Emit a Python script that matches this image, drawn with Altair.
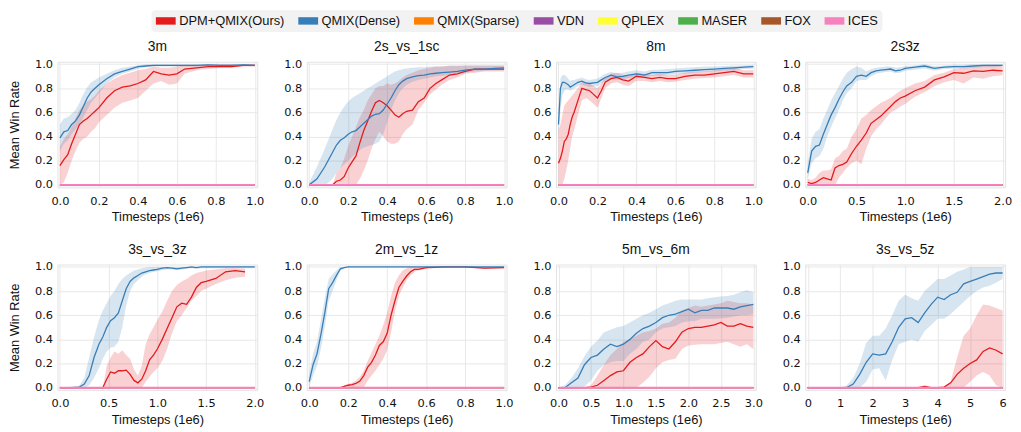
import altair as alt
import pandas as pd

METHODS = ["DPM+QMIX(Ours)", "QMIX(Dense)", "QMIX(Sparse)", "VDN", "QPLEX", "MASER", "FOX", "ICES"]
COLORS = ["#e41a1c", "#377eb8", "#ff7f00", "#984ea3", "#ffff33", "#4daf4a", "#a65628", "#f781bf"]

PANELS = ["3m", "2s_vs_1sc", "8m", "2s3z", "3s_vs_3z", "2m_vs_1z", "5m_vs_6m", "3s_vs_5z"]
X_MAX = [1.0, 1.0, 1.0, 2.0, 2.0, 1.0, 3.0, 6.0]
X_TICKS = [
    [0, 0.2, 0.4, 0.6, 0.8, 1.0],
    [0, 0.2, 0.4, 0.6, 0.8, 1.0],
    [0, 0.2, 0.4, 0.6, 0.8, 1.0],
    [0, 0.5, 1.0, 1.5, 2.0],
    [0, 0.5, 1.0, 1.5, 2.0],
    [0, 0.2, 0.4, 0.6, 0.8, 1.0],
    [0, 0.5, 1.0, 1.5, 2.0, 2.5, 3.0],
    [0, 1, 2, 3, 4, 5, 6],
]
X_FMT = [".1f", ".1f", ".1f", ".1f", ".1f", ".1f", ".1f", "d"]
Y_TICKS = [0, 0.2, 0.4, 0.6, 0.8, 1.0]

# ---------------- 3m ----------------
X_3M = [0, .02, .04, .06, .08, .10, .12, .14, .16, .18, .20, .24, .28, .32, .36, .40, .44, .48, .52, .56, .60, .64, .70, .76, .82, .88, .94, 1.0]
RED_3M = [.16, .21, .25, .34, .42, .50, .53, .55, .58, .61, .64, .72, .78, .81, .82, .84, .87, .94, .92, .91, .92, .96, .97, .98, .98, .98, .99, .99]
RED_LO_3M = [0, .02, .10, .20, .28, .35, .38, .40, .44, .47, .52, .58, .64, .68, .70, .72, .78, .84, .86, .83, .84, .92, .95, .96, .97, .97, .98, .98]
RED_HI_3M = [.32, .38, .42, .48, .55, .62, .66, .69, .71, .74, .78, .84, .88, .91, .93, .95, .96, .98, .97, .97, .98, .99, .99, 1, 1, 1, 1, 1]
BLUE_3M = [.39, .44, .45, .50, .53, .58, .65, .72, .77, .80, .83, .88, .92, .94, .96, .98, .985, .99, .99, .99, .99, .99, .99, .995, .99, .99, .995, .99]
BLUE_LO_3M = [.28, .34, .37, .42, .46, .50, .56, .62, .68, .72, .76, .84, .89, .92, .94, .96, .975, .98, .98, .98, .98, .98, .98, .985, .98, .98, .985, .98]
BLUE_HI_3M = [.50, .55, .56, .59, .62, .68, .75, .81, .85, .87, .89, .92, .95, .97, .98, .99, 1, 1, 1, 1, 1, 1, 1, 1, 1, 1, 1, 1]

# ---------------- 2s_vs_1sc ----------------
X_2S1SC = [0, .04, .08, .10, .12, .14, .16, .18, .20, .22, .24, .26, .28, .30, .32, .34, .36, .38, .40, .42, .44, .46, .48, .50, .53, .56, .59, .62, .65, .68, .72, .76, .80, .85, .90, .95, 1.0]
RED_2S1SC = [0, 0, 0, 0, 0, .03, .04, .07, .14, .19, .24, .35, .45, .53, .61, .68, .70, .68, .655, .62, .58, .56, .59, .61, .62, .69, .72, .80, .84, .87, .91, .92, .94, .96, .96, .96, .96]
RED_LO_2S1SC = [0, 0, 0, 0, 0, 0, 0, 0, 0, 0, 0, .05, .12, .20, .30, .38, .44, .40, .36, .34, .34, .36, .42, .46, .50, .62, .68, .75, .79, .83, .87, .89, .92, .93, .94, .94, .94]
RED_HI_2S1SC = [0, 0, 0, 0, 0, .10, .14, .22, .32, .40, .48, .56, .62, .70, .75, .80, .82, .82, .84, .83, .84, .86, .89, .91, .93, .95, .96, .97, .98, .98, .99, .99, .99, .99, .99, .99, .99]
BLUE_2S1SC = [0, .05, .15, .21, .27, .33, .37, .39, .42, .44, .45, .48, .51, .54, .57, .585, .59, .62, .67, .72, .78, .83, .86, .88, .895, .905, .91, .92, .925, .93, .935, .94, .95, .96, .96, .965, .97]
BLUE_LO_2S1SC = [0, 0, 0, .02, .05, .10, .14, .17, .20, .23, .26, .29, .31, .32, .33, .34, .36, .42, .52, .62, .70, .76, .80, .83, .855, .87, .88, .89, .90, .905, .91, .92, .93, .94, .945, .95, .95]
BLUE_HI_2S1SC = [.02, .15, .30, .38, .46, .54, .60, .65, .69, .72, .74, .76, .78, .80, .82, .84, .86, .88, .90, .92, .94, .95, .96, .965, .97, .975, .975, .98, .98, .98, .985, .985, .99, .99, .99, .99, .99]

# ---------------- 8m ----------------
X_8M = [0, .01, .02, .03, .04, .05, .06, .07, .08, .10, .12, .14, .16, .18, .20, .22, .24, .27, .30, .33, .36, .40, .44, .48, .52, .56, .60, .65, .70, .75, .80, .85, .90, .95, 1.0]
RED_8M = [.18, .22, .28, .36, .38, .42, .50, .56, .60, .70, .80, .79, .78, .75, .72, .78, .85, .88, .89, .87, .86, .90, .89, .88, .89, .88, .88, .90, .91, .91, .92, .93, .94, .92, .92]
RED_LO_8M = [0, 0, 0, .05, .12, .20, .30, .40, .45, .58, .70, .72, .70, .67, .64, .72, .80, .84, .85, .83, .82, .86, .86, .85, .86, .85, .855, .87, .88, .885, .89, .90, .91, .89, .89]
RED_HI_8M = [.45, .50, .58, .66, .68, .70, .72, .74, .76, .80, .85, .85, .84, .82, .80, .84, .89, .92, .93, .91, .90, .93, .92, .91, .92, .91, .91, .93, .94, .94, .95, .96, .97, .95, .95]
BLUE_8M = [.50, .80, .85, .85, .84, .83, .81, .82, .83, .85, .86, .845, .84, .845, .85, .87, .89, .91, .895, .90, .91, .92, .91, .93, .93, .93, .94, .945, .95, .955, .96, .965, .97, .975, .98]
BLUE_LO_8M = [.40, .62, .74, .78, .79, .79, .78, .79, .80, .82, .83, .82, .81, .815, .82, .84, .86, .88, .87, .875, .885, .895, .89, .905, .905, .91, .915, .92, .93, .935, .94, .945, .95, .96, .965]
BLUE_HI_8M = [.60, .88, .91, .91, .90, .88, .86, .87, .87, .88, .89, .875, .87, .875, .88, .90, .92, .935, .925, .93, .94, .95, .94, .955, .955, .96, .965, .97, .975, .98, .98, .985, .99, .99, .995]

# ---------------- 2s3z ----------------
X_2S3Z = [0, .04, .08, .12, .16, .20, .24, .28, .32, .36, .40, .45, .50, .55, .60, .65, .70, .75, .80, .85, .90, .95, 1.0, 1.1, 1.2, 1.3, 1.4, 1.5, 1.6, 1.7, 1.8, 1.9, 2.0]
RED_2S3Z = [.02, .01, .02, .04, .06, .05, .04, .14, .16, .17, .19, .26, .32, .37, .43, .51, .54, .57, .61, .65, .69, .72, .735, .78, .81, .87, .895, .93, .925, .945, .94, .95, .945]
RED_LO_2S3Z = [0, 0, 0, 0, 0, 0, 0, 0, .06, .10, .14, .18, .20, .17, .30, .40, .46, .50, .55, .60, .62, .65, .67, .73, .77, .82, .85, .87, .84, .89, .88, .90, .91]
RED_HI_2S3Z = [.05, .04, .06, .10, .12, .12, .13, .22, .24, .28, .30, .40, .46, .55, .58, .62, .65, .68, .70, .72, .75, .78, .80, .84, .86, .91, .93, .96, .97, .98, .985, .99, .98]
BLUE_2S3Z = [.10, .28, .32, .33, .42, .50, .58, .64, .71, .77, .82, .85, .90, .91, .90, .93, .945, .95, .955, .96, .945, .95, .965, .975, .985, .965, .975, .98, .98, .985, .99, .99, .99]
BLUE_LO_2S3Z = [.05, .18, .22, .24, .30, .40, .48, .55, .62, .70, .76, .80, .86, .87, .87, .90, .92, .93, .935, .94, .925, .93, .945, .955, .965, .945, .96, .965, .965, .97, .975, .975, .98]
BLUE_HI_2S3Z = [.18, .38, .44, .46, .55, .62, .70, .76, .82, .88, .93, .96, .98, .97, .94, .96, .97, .975, .98, .98, .97, .975, .985, .99, 1, .985, .99, .995, .995, 1, 1, 1, 1]

# ---------------- 3s_vs_3z ----------------
X_3S3Z = [0, .1, .2, .25, .30, .35, .40, .44, .48, .52, .56, .60, .64, .68, .72, .76, .80, .84, .88, .92, .96, 1.0, 1.05, 1.1, 1.15, 1.2, 1.25, 1.3, 1.35, 1.4, 1.45, 1.5, 1.6, 1.7, 1.8, 1.9, 2.0]
RED_3S3Z = [0, 0, 0, 0, 0, 0, 0, 0, .07, .13, .12, .14, .14, .145, .11, .06, .04, .07, .14, .23, .27, .32, .40, .49, .58, .67, .70, .69, .75, .83, .87, .88, .905, .96, .97, .96, None]
RED_LO_3S3Z = [0, 0, 0, 0, 0, 0, 0, 0, 0, 0, 0, 0, 0, 0, 0, 0, 0, 0, .05, .09, .13, .16, .22, .32, .45, .55, .60, .66, .72, .76, .80, .82, .86, .89, .91, .92, None]
RED_HI_3S3Z = [0, 0, 0, 0, 0, 0, 0, 0, .18, .25, .30, .28, .31, .27, .24, .15, .10, .18, .36, .44, .50, .56, .63, .72, .80, .85, .88, .90, .93, .95, .96, .97, .98, .99, .99, .985, None]
BLUE_3S3Z = [0, 0, .005, .03, .10, .25, .36, .42, .50, .555, .58, .62, .72, .82, .88, .91, .93, .95, .96, .97, .975, .98, .99, .995, .99, .985, .99, .995, 1, .995, 1, 1, 1, 1, 1, 1, 1]
BLUE_LO_3S3Z = [0, 0, 0, 0, .02, .08, .16, .24, .30, .33, .34, .38, .50, .68, .80, .86, .89, .92, .94, .95, .96, .965, .975, .98, .98, .975, .98, .985, .99, .985, .99, .99, .99, .99, .99, .99, .99]
BLUE_HI_3S3Z = [0, 0, .02, .08, .25, .42, .56, .64, .70, .76, .80, .86, .90, .93, .95, .97, .98, .99, .995, 1, 1, 1, 1, 1, 1, 1, 1, 1, 1, 1, 1, 1, 1, 1, 1, 1, 1]

# ---------------- 2m_vs_1z ----------------
X_2M1Z = [0, .02, .04, .06, .08, .10, .12, .14, .16, .18, .20, .22, .24, .26, .28, .30, .32, .34, .36, .38, .40, .42, .44, .46, .48, .50, .52, .54, .56, .60, .70, .80, .90, 1.0]
RED_2M1Z = [0, 0, 0, 0, 0, 0, 0, 0, 0, .01, .02, .025, .035, .055, .10, .17, .21, .27, .35, .38, .45, .60, .72, .83, .88, .925, .96, .98, .98, .995, 1, 1, .99, .995]
RED_LO_2M1Z = [0, 0, 0, 0, 0, 0, 0, 0, 0, 0, 0, 0, 0, 0, 0, .06, .10, .14, .19, .24, .31, .46, .63, .76, .83, .89, .93, .96, .97, .985, .995, .995, .985, .99]
RED_HI_2M1Z = [0, 0, 0, 0, 0, 0, 0, 0, 0, .02, .03, .04, .06, .09, .14, .22, .29, .36, .43, .52, .62, .76, .87, .93, .97, .99, 1, 1, 1, 1, 1, 1, 1, 1]
BLUE_2M1Z = [.05, .19, .28, .44, .62, .82, .87, .93, .985, .995, 1, 1, 1, 1, 1, 1, 1, 1, 1, 1, 1, 1, 1, 1, 1, 1, 1, 1, 1, 1, 1, 1, 1, 1]
BLUE_LO_2M1Z = [0, .10, .18, .32, .50, .72, .80, .89, .97, .99, .995, .995, .995, .995, .995, .995, .995, .995, .995, .995, .995, .995, .995, .995, .995, .995, .995, .995, .995, .995, .995, .995, .995, .995]
BLUE_HI_2M1Z = [.12, .28, .38, .56, .74, .90, .94, .97, 1, 1, 1, 1, 1, 1, 1, 1, 1, 1, 1, 1, 1, 1, 1, 1, 1, 1, 1, 1, 1, 1, 1, 1, 1, 1]

# ---------------- 5m_vs_6m ----------------
X_5M6M = [0, .1, .2, .3, .4, .5, .6, .7, .8, .9, 1.0, 1.1, 1.2, 1.3, 1.4, 1.5, 1.6, 1.7, 1.8, 1.9, 2.0, 2.1, 2.2, 2.3, 2.4, 2.5, 2.6, 2.7, 2.8, 2.9, 3.0]
RED_5M6M = [0, 0, 0, 0, 0, .005, .02, .06, .10, .13, .14, .21, .25, .28, .34, .39, .34, .32, .38, .46, .49, .50, .50, .51, .52, .54, .51, .51, .53, .51, .50]
RED_LO_5M6M = [0, 0, 0, 0, 0, 0, 0, 0, 0, 0, 0, 0, 0, .04, .09, .16, .21, .23, .24, .32, .35, .355, .36, .36, .36, .37, .38, .36, .34, .36, .32]
RED_HI_5M6M = [0, 0, 0, 0, 0, .02, .10, .19, .27, .32, .38, .40, .43, .46, .47, .49, .53, .54, .58, .64, .66, .68, .67, .68, .69, .70, .72, .71, .70, .70, .69]
BLUE_5M6M = [0, 0, .04, .08, .19, .25, .27, .32, .36, .34, .36, .40, .45, .49, .51, .54, .58, .60, .61, .63, .65, .62, .64, .64, .66, .66, .66, .65, .67, .68, .69]
BLUE_LO_5M6M = [0, 0, 0, 0, .01, .06, .14, .19, .21, .22, .22, .28, .32, .38, .40, .46, .49, .50, .51, .54, .55, .55, .57, .57, .57, .575, .58, .59, .60, .60, .61]
BLUE_HI_5M6M = [0, .02, .08, .16, .26, .34, .39, .46, .48, .50, .51, .54, .57, .60, .62, .65, .68, .70, .72, .73, .73, .73, .73, .74, .75, .755, .76, .77, .79, .81, .79]

# ---------------- 3s_vs_5z ----------------
X_3S5Z = [0, .5, 1.0, 1.2, 1.4, 1.6, 1.8, 2.0, 2.2, 2.4, 2.6, 2.8, 3.0, 3.2, 3.4, 3.6, 3.8, 4.0, 4.2, 4.4, 4.6, 4.8, 5.0, 5.2, 5.4, 5.6, 5.8, 6.0]
RED_3S5Z = [0, 0, 0, 0, 0, 0, 0, 0, 0, 0, 0, 0, 0, 0, 0, .01, 0, 0, .005, .04, .11, .16, .20, .23, .30, .33, .31, .28]
RED_LO_3S5Z = [0, 0, 0, 0, 0, 0, 0, 0, 0, 0, 0, 0, 0, 0, 0, 0, 0, 0, 0, 0, 0, 0, .05, .10, .13, .10, .02, 0]
RED_HI_3S5Z = [0, 0, 0, 0, 0, 0, 0, 0, 0, 0, 0, 0, 0, 0, 0, .02, 0, 0, .01, .05, .25, .43, .49, .60, .69, .68, .66, .64]
BLUE_3S5Z = [0, 0, 0, 0, .03, .11, .21, .28, .27, .28, .38, .50, .57, .58, .54, .62, .69, .75, .73, .77, .79, .86, .88, .90, .92, .94, .95, .95]
BLUE_LO_3S5Z = [0, 0, 0, 0, 0, 0, .05, .15, .16, .06, .23, .36, .38, .40, .38, .47, .52, .57, .57, .61, .66, .71, .76, .80, .83, .845, .87, .90]
BLUE_HI_3S5Z = [0, 0, 0, .02, .08, .20, .37, .43, .43, .49, .60, .72, .77, .74, .72, .80, .85, .90, .90, .93, .96, .98, 1, 1, 1, 1, 1, 1]

PANEL_SERIES = [
    (X_3M, RED_3M, RED_LO_3M, RED_HI_3M, BLUE_3M, BLUE_LO_3M, BLUE_HI_3M),
    (X_2S1SC, RED_2S1SC, RED_LO_2S1SC, RED_HI_2S1SC, BLUE_2S1SC, BLUE_LO_2S1SC, BLUE_HI_2S1SC),
    (X_8M, RED_8M, RED_LO_8M, RED_HI_8M, BLUE_8M, BLUE_LO_8M, BLUE_HI_8M),
    (X_2S3Z, RED_2S3Z, RED_LO_2S3Z, RED_HI_2S3Z, BLUE_2S3Z, BLUE_LO_2S3Z, BLUE_HI_2S3Z),
    (X_3S3Z, RED_3S3Z, RED_LO_3S3Z, RED_HI_3S3Z, BLUE_3S3Z, BLUE_LO_3S3Z, BLUE_HI_3S3Z),
    (X_2M1Z, RED_2M1Z, RED_LO_2M1Z, RED_HI_2M1Z, BLUE_2M1Z, BLUE_LO_2M1Z, BLUE_HI_2M1Z),
    (X_5M6M, RED_5M6M, RED_LO_5M6M, RED_HI_5M6M, BLUE_5M6M, BLUE_LO_5M6M, BLUE_HI_5M6M),
    (X_3S5Z, RED_3S5Z, RED_LO_3S5Z, RED_HI_3S5Z, BLUE_3S5Z, BLUE_LO_3S5Z, BLUE_HI_3S5Z),
]

rows = []
for name, (xs, r, rlo, rhi, b, blo, bhi) in zip(PANELS, PANEL_SERIES):
    for x, m, lo, hi in zip(xs, r, rlo, rhi):
        rows.append({"panel": name, "method": METHODS[0], "x": x, "mean": m, "lo": lo, "hi": hi})
    for x, m, lo, hi in zip(xs, b, blo, bhi):
        rows.append({"panel": name, "method": METHODS[1], "x": x, "mean": m, "lo": lo, "hi": hi})
    for meth in METHODS[2:]:
        for x in xs:
            rows.append({"panel": name, "method": meth, "x": x, "mean": 0.0, "lo": 0.0, "hi": 0.0})
df = pd.DataFrame(rows)

cscale = alt.Scale(domain=METHODS, range=COLORS)
LEGEND = alt.Legend(
    title=None, orient="none", legendX=95, legendY=-52, direction="horizontal", columns=8,
    fillColor="#f2f2f2", cornerRadius=4, padding=4,
    labelFont="Liberation Sans", labelFontSize=13, labelColor="#111111", labelOffset=7,
    columnPadding=13, symbolSize=144, symbolType="M-1.667,-0.625H1.667V0.625H-1.667Z",
    symbolOpacity=1, symbolStrokeWidth=0, symbolOffset=4,
)


def make_panel(i):
    name = PANELS[i]
    sub = df[df.panel == name]
    base = alt.Chart(sub)
    xscale = alt.Scale(domain=[0, X_MAX[i]], padding=2.5, nice=False, zero=False)
    yscale = alt.Scale(domain=[0, 1], padding=2.5, nice=False, zero=False)
    xaxis = alt.Axis(values=X_TICKS[i], format=X_FMT[i], title="Timesteps (1e6)", labelFlush=False)
    ykw = dict(values=Y_TICKS, format=".1f", labelFlush=False)
    ykw["title"] = "Mean Win Rate" if i % 4 == 0 else ""
    yaxis = alt.Axis(**ykw)
    x = alt.X("x:Q", scale=xscale, axis=xaxis)

    layers = []
    for k, meth in enumerate(METHODS[:2]):
        layers.append(
            base.transform_filter(alt.datum.method == meth)
            .mark_area(opacity=0.2, strokeWidth=0)
            .encode(
                x=x,
                y=alt.Y("lo:Q", scale=yscale, axis=yaxis),
                y2="hi:Q",
                color=alt.Color("method:N", scale=cscale, legend=LEGEND if k == 0 else None),
            )
        )
    order = METHODS[2:7] + METHODS[0:2] + METHODS[7:]
    for meth in order:
        if meth == "ICES":
            sw = 2.0
        elif meth in METHODS[:2]:
            sw = 1.3
        else:
            sw = 1.0
        layers.append(
            base.transform_filter(alt.datum.method == meth)
            .mark_line(strokeWidth=sw)
            .encode(
                x=x,
                y=alt.Y("mean:Q", scale=yscale, axis=yaxis),
                color=alt.Color("method:N", scale=cscale, legend=None),
            )
        )
    return alt.layer(*layers).properties(width=202, height=127, title=alt.Title(name))


panels = [make_panel(i) for i in range(8)]

chart = (
    alt.concat(*panels, columns=4, spacing={"row": 78, "column": 50}, bounds="flush")
    .properties(padding={"left": 0, "top": 0, "right": 0, "bottom": 2})
    .configure_view(stroke="#e3e3e3", strokeWidth=1)
    .configure_axis(
        grid=True, gridColor="#e8e8e8", gridWidth=1, domain=False, ticks=False, tickSize=0,
        labelFont="DejaVu Sans", labelFontSize=11.5, labelColor="#111111",
        titleFont="Liberation Sans", titleFontSize=13, titleFontWeight="normal", titleColor="#111111",
    )
    .configure_axisX(labelPadding=8, titlePadding=4)
    .configure_axisY(labelPadding=5, titlePadding=13)
    .configure_title(font="Liberation Sans", fontSize=14, fontWeight="normal", color="#111111", offset=4)
)

chart.save("out.html", embed_options={"renderer": "svg", "actions": False})
